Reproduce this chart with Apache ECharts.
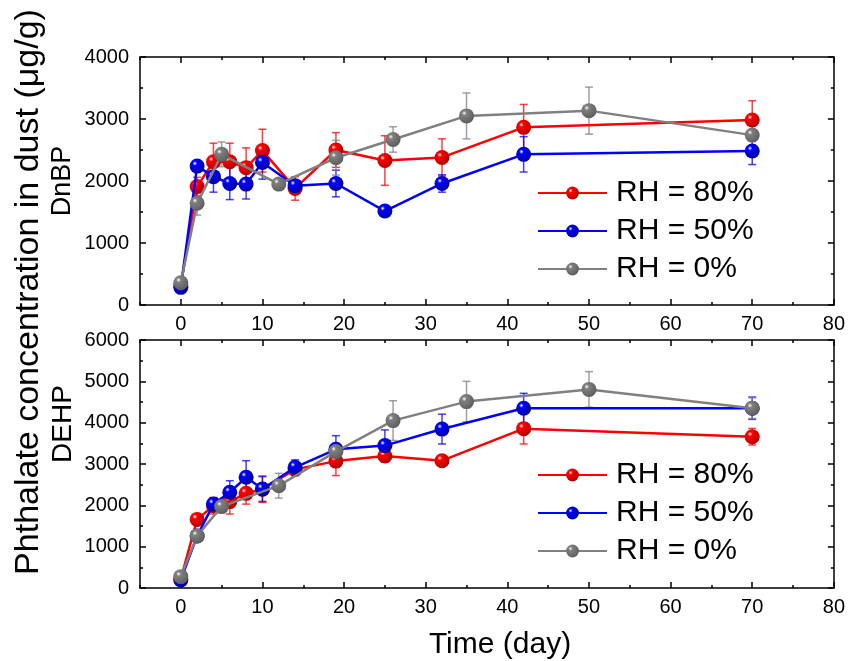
<!DOCTYPE html>
<html>
<head>
<meta charset="utf-8">
<script src="https://cdn.jsdelivr.net/npm/echarts@6/dist/echarts.min.js"></script>
<style>
html,body{margin:0;padding:0;background:#fff;}
#chart{width:848px;height:661px;}
</style>
</head>
<body>
<div id="chart"></div>
<script>
// ---------- data ----------
const seriesNames = ['RH = 80%', 'RH = 50%', 'RH = 0%'];
const daysRB = [0, 2, 4, 6, 8, 10, 14, 19, 25, 32, 42, 70];
const daysGray = [0, 2, 5, 12, 19, 26, 35, 50, 70];
const xTickLabels = [0, 10, 20, 30, 40, 50, 60, 70, 80];
const xMinorTicks = [-5, 5, 15, 25, 35, 45, 55, 65, 75];

// DnBP (top panel)
const redDnBP = [320, 1910, 2310, 2310, 2215, 2490, 1880, 2500, 2330, 2380, 2865, 2985];
const redDnBPErr = [60, 150, 300, 300, 320, 345, 190, 280, 400, 300, 370, 310];
const blueDnBP = [285, 2240, 2070, 1960, 1950, 2300, 1925, 1960, 1515, 1960, 2430, 2485];
const blueDnBPErr = [50, 80, 250, 260, 240, 270, 80, 215, 60, 140, 285, 220];
const grayDnBP = [360, 1640, 2430, 1950, 2375, 2670, 3050, 3135, 2740];
const grayDnBPErr = [60, 190, 200, 70, 280, 205, 370, 380, 200];

// DEHP (bottom panel)
const redDEHP = [220, 1660, 1990, 2090, 2290, 2390, 2870, 3070, 3195, 3080, 3855, 3660];
const redDEHPErr = [50, 80, 200, 300, 260, 320, 150, 350, 150, 120, 370, 200];
const blueDEHP = [195, 1260, 2030, 2315, 2680, 2395, 2920, 3355, 3445, 3845, 4350, 4350];
const blueDEHPErr = [50, 80, 150, 280, 400, 300, 180, 330, 380, 360, 360, 270];
const grayDEHP = [275, 1260, 1970, 2475, 3300, 4050, 4510, 4805, 4350];
const grayDEHPErr = [60, 80, 100, 300, 200, 480, 490, 430, 250];

// ---------- styling ----------
const FONT = 'Liberation Sans, Arial, sans-serif';
const colors = [
  {base: '#ff0000', dark: '#b00000', err: 'rgba(255,0,0,0.75)'},
  {base: '#0000ff', dark: '#000099', err: 'rgba(0,0,255,0.75)'},
  {base: '#808080', dark: '#5e5e5e', err: 'rgba(128,128,128,0.75)'}
];
function sphere(c) {
  return {
    type: 'radial', x: 0.35, y: 0.32, r: 0.7,
    colorStops: [
      {offset: 0, color: '#ffffff'},
      {offset: 0.22, color: c.base},
      {offset: 1, color: c.dark}
    ]
  };
}

function xAxesFor(g) {
  const common = {gridIndex: g, type: 'value', min: -5, max: 80, splitLine: {show: false}};
  return [
    Object.assign({}, common, {
      position: 'bottom',
      axisLine: {show: true, onZero: false, lineStyle: {color: '#000', width: 1.5}},
      axisTick: {show: true, inside: true, length: 6, customValues: xTickLabels, lineStyle: {color: '#000', width: 1.5}},
      axisLabel: {show: true, customValues: xTickLabels, fontSize: 20, color: '#000', fontFamily: FONT, margin: 9}
    }),
    Object.assign({}, common, {
      position: 'bottom',
      axisLine: {show: false, onZero: false},
      axisTick: {show: true, inside: true, length: 3, customValues: xMinorTicks, lineStyle: {color: '#000', width: 1.5}},
      axisLabel: {show: false, customValues: xMinorTicks}
    }),
    Object.assign({}, common, {
      position: 'top',
      axisLine: {show: true, onZero: false, lineStyle: {color: '#000', width: 1.5}},
      axisTick: {show: true, inside: true, length: 6, customValues: xTickLabels, lineStyle: {color: '#000', width: 1.5}},
      axisLabel: {show: false, customValues: xTickLabels}
    }),
    Object.assign({}, common, {
      position: 'top',
      axisLine: {show: false, onZero: false},
      axisTick: {show: true, inside: true, length: 3, customValues: xMinorTicks, lineStyle: {color: '#000', width: 1.5}},
      axisLabel: {show: false, customValues: xMinorTicks}
    })
  ];
}
function yAxesFor(g, max) {
  const common = {
    gridIndex: g, type: 'value', min: 0, max: max, interval: 1000,
    splitLine: {show: false},
    axisLine: {show: true, onZero: false, lineStyle: {color: '#000', width: 1.5}},
    axisTick: {show: true, inside: true, length: 6, lineStyle: {color: '#000', width: 1.5}},
    minorTick: {show: true, splitNumber: 2, length: 3, lineStyle: {color: '#000', width: 1.5}}
  };
  return [
    Object.assign({}, common, {position: 'left',
      axisLabel: {show: true, fontSize: 20, color: '#000', fontFamily: FONT, margin: 11,
        formatter: function (v) { return String(v); }}}),
    Object.assign({}, common, {position: 'right', axisLabel: {show: false}})
  ];
}

function lineSeries(name, xs, ys, ci, xi, yi) {
  const c = colors[ci];
  return {
    name: name, type: 'line', xAxisIndex: xi, yAxisIndex: yi,
    data: xs.map((x, i) => [x, ys[i]]),
    symbol: 'circle', symbolSize: 15,
    lineStyle: {color: c.base, width: 2.5},
    itemStyle: {color: sphere(c), borderWidth: 0},
    z: 3 + ci,
    animation: false
  };
}
function errSeries(xs, ys, es, ci, xi, yi) {
  const c = colors[ci];
  return {
    type: 'custom', xAxisIndex: xi, yAxisIndex: yi,
    data: xs.map((x, i) => [x, ys[i] - es[i], ys[i] + es[i]]),
    encode: {x: 0, y: [1, 2]},
    z: 2, silent: true, animation: false,
    renderItem: function (params, api) {
      const x = api.value(0);
      const p1 = api.coord([x, api.value(1)]);
      const p2 = api.coord([x, api.value(2)]);
      const w = 4;
      const st = {stroke: c.err, lineWidth: 1.5};
      return {
        type: 'group',
        children: [
          {type: 'line', shape: {x1: p1[0], y1: p1[1], x2: p2[0], y2: p2[1]}, style: st},
          {type: 'line', shape: {x1: p1[0] - w, y1: p1[1], x2: p1[0] + w, y2: p1[1]}, style: st},
          {type: 'line', shape: {x1: p2[0] - w, y1: p2[1], x2: p2[0] + w, y2: p2[1]}, style: st}
        ]
      };
    }
  };
}

const xAxes = xAxesFor(0).concat(xAxesFor(1));   // grid0: 0..3, grid1: 4..7
const yAxes = yAxesFor(0, 4000).concat(yAxesFor(1, 6000)); // grid0: 0,1 ; grid1: 2,3

const series = [
  errSeries(daysRB, redDnBP, redDnBPErr, 0, 0, 0),
  errSeries(daysRB, blueDnBP, blueDnBPErr, 1, 0, 0),
  errSeries(daysGray, grayDnBP, grayDnBPErr, 2, 0, 0),
  lineSeries(seriesNames[0], daysRB, redDnBP, 0, 0, 0),
  lineSeries(seriesNames[1], daysRB, blueDnBP, 1, 0, 0),
  lineSeries(seriesNames[2], daysGray, grayDnBP, 2, 0, 0),
  errSeries(daysRB, redDEHP, redDEHPErr, 0, 4, 2),
  errSeries(daysRB, blueDEHP, blueDEHPErr, 1, 4, 2),
  errSeries(daysGray, grayDEHP, grayDEHPErr, 2, 4, 2),
  lineSeries(seriesNames[0], daysRB, redDEHP, 0, 4, 2),
  lineSeries(seriesNames[1], daysRB, blueDEHP, 1, 4, 2),
  lineSeries(seriesNames[2], daysGray, grayDEHP, 2, 4, 2)
];

function legendAt(top) {
  return {
    data: seriesNames, orient: 'vertical', left: 532, top: top,
    itemWidth: 69, itemHeight: 16, itemGap: 8,
    selectedMode: false,
    textStyle: {fontSize: 30, color: '#000', fontFamily: FONT, padding: [0, 0, 0, 4]}
  };
}

const chart = echarts.init(document.getElementById('chart'), null, {renderer: 'canvas'});
chart.setOption({
  backgroundColor: '#fff',
  animation: false,
  grid: [
    {left: 140, top: 57, width: 694, height: 248, containLabel: false},
    {left: 140, top: 340, width: 694, height: 248, containLabel: false}
  ],
  xAxis: xAxes,
  yAxis: yAxes,
  legend: [legendAt(173), legendAt(455)],
  series: series,
  graphic: [
    {type: 'text', x: 29, y: 292, rotation: Math.PI / 2,
      style: {text: 'Phthalate concentration in dust (\u03bcg/g)', fontSize: 34, fontFamily: FONT, fill: '#000', textAlign: 'center', textVerticalAlign: 'middle'}},
    {type: 'text', x: 63, y: 181, rotation: Math.PI / 2,
      style: {text: 'DnBP', fontSize: 27, fontFamily: FONT, fill: '#000', textAlign: 'center', textVerticalAlign: 'middle'}},
    {type: 'text', x: 63, y: 424, rotation: Math.PI / 2,
      style: {text: 'DEHP', fontSize: 28, fontFamily: FONT, fill: '#000', textAlign: 'center', textVerticalAlign: 'middle'}},
    {type: 'text', x: 500, y: 645,
      style: {text: 'Time (day)', fontSize: 30, fontFamily: FONT, fill: '#000', textAlign: 'center', textVerticalAlign: 'middle'}}
  ]
});
</script>
</body>
</html>
